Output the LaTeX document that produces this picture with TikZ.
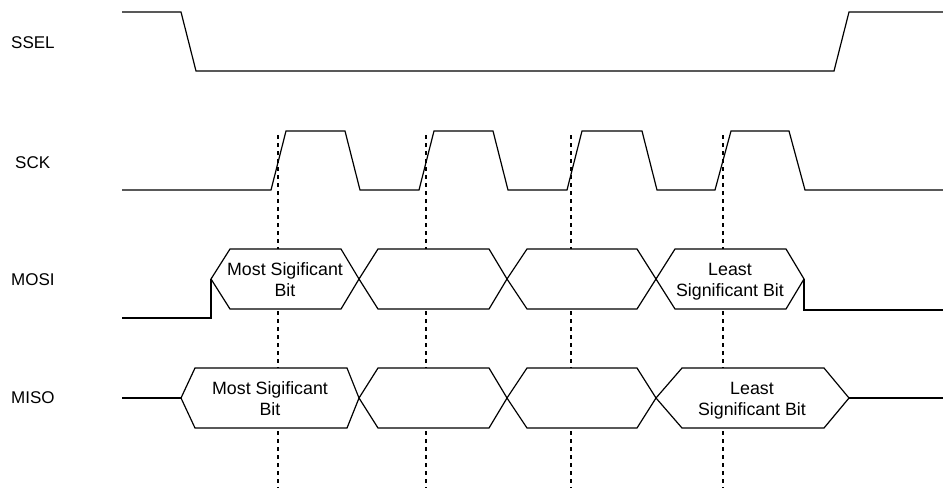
\documentclass[tikz,border=0pt]{standalone}
\usepackage{fontspec}
\setmainfont{Liberation Sans}
\begin{document}
\begin{tikzpicture}[x=1pt,y=-1pt,
  sig/.style={line width=1.2pt, line join=miter},
  hexbox/.style={sig, fill=white},
  guide/.style={line width=1.1pt, dash pattern=on 4pt off 4pt},
  siglabel/.style={anchor=west, inner sep=0pt, font=\fontsize{17}{20}\selectfont},
  bitlabel/.style={align=center, inner sep=0pt, font=\fontsize{17.8}{21}\selectfont}]
\useasboundingbox (0,0) rectangle (943,488);

% signal names
\node[siglabel] (lssel) at (11,43) {SSEL};
\node[siglabel] (lsck) at (15,163) {SCK};
\node[siglabel] (lmosi) at (11,280) {MOSI};
\node[siglabel] (lmiso) at (11,398) {MISO};

% sampling guides
\coordinate (g1t) at (278,135); \coordinate (g1b) at (278,488);
\coordinate (g2t) at (426,135); \coordinate (g2b) at (426,488);
\coordinate (g3t) at (571,135); \coordinate (g3b) at (571,488);
\coordinate (g4t) at (723,135); \coordinate (g4b) at (723,488);
\draw[guide] (g1t) -- (g1b);
\draw[guide] (g2t) -- (g2b);
\draw[guide] (g3t) -- (g3b);
\draw[guide] (g4t) -- (g4b);

% SSEL
\draw[sig] (122,12) -- (181,12) -- (196,71) -- (834,71) -- (849,12) -- (943,12);

% SCK
\draw[sig] (122,190) -- (271,190) -- (286,131) -- (345,131) -- (360,190)
  -- (419,190) -- (434,131) -- (493,131) -- (508,190)
  -- (567,190) -- (582,131) -- (642,131) -- (657,190)
  -- (715,190) -- (731,131) -- (789,131) -- (805,190) -- (943,190);

% MOSI
\draw[sig] (122,318) -- (211,318) -- (211,279);
\draw[hexbox] (211,279) -- (230,249) -- (341,249) -- (359,279) -- (341,309) -- (230,309) -- cycle;
\draw[hexbox] (359,279) -- (378,249) -- (489,249) -- (507,279) -- (489,309) -- (378,309) -- cycle;
\draw[hexbox] (507,279) -- (527,249) -- (637,249) -- (656,279) -- (637,309) -- (527,309) -- cycle;
\draw[hexbox] (656,279) -- (675,249) -- (786,249) -- (804,279) -- (786,309) -- (675,309) -- cycle;
\draw[sig] (804,279) -- (804,310) -- (943,310);
\node[bitlabel] (mosimsb) at (285,280) {Most Sigificant\\Bit};
\node[bitlabel] (mosilsb) at (730,282) {Least\\Significant Bit};

% MISO
\draw[sig] (122,398) -- (181,398);
\draw[hexbox] (181,398) -- (195,368) -- (347,368) -- (359,398) -- (347,428) -- (195,428) -- cycle;
\draw[hexbox] (359,398) -- (378,368) -- (489,368) -- (507,398) -- (489,428) -- (378,428) -- cycle;
\draw[hexbox] (507,398) -- (527,368) -- (637,368) -- (656,398) -- (637,428) -- (527,428) -- cycle;
\draw[hexbox] (656,398) -- (682,368) -- (824,368) -- (849,398) -- (824,428) -- (682,428) -- cycle;
\draw[sig] (849,398) -- (943,398);
\node[bitlabel] (misomsb) at (270,399) {Most Sigificant\\Bit};
\node[bitlabel] (misolsb) at (752,401) {Least\\Significant Bit};
\end{tikzpicture}
\end{document}
